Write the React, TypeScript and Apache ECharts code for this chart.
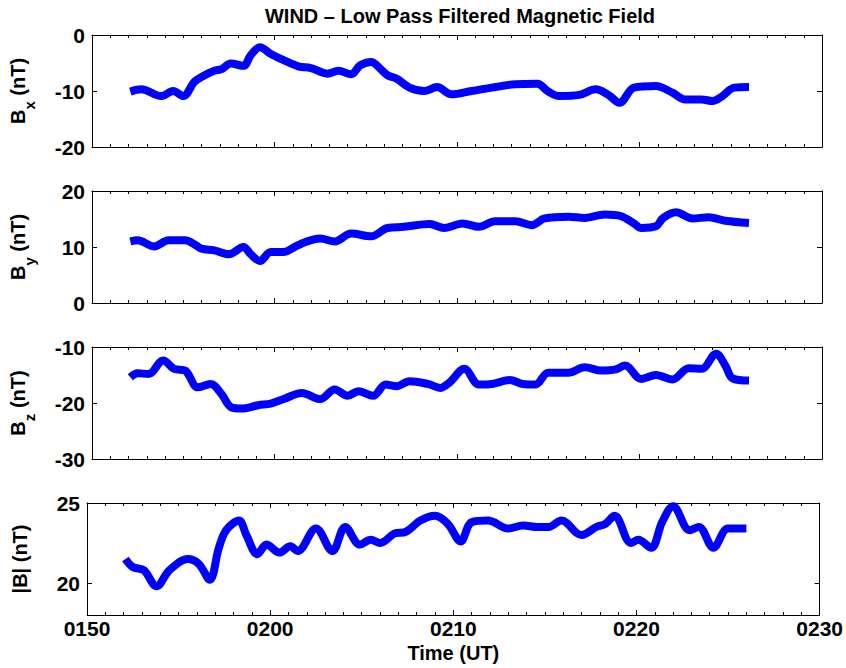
import React, { useEffect, useRef } from "react";
import * as echarts from "echarts";

// Time is in minutes after 01:50 UT
const xTickLabels = ["0150", "0200", "0210", "0220", "0230"];

const bxTime = [2.1, 2.7, 3.8, 4.45, 5.0, 5.6, 6.0, 6.7, 7.1, 7.6, 8.3, 8.7, 9.2, 9.8, 10.5, 11.3, 12.0, 12.9, 13.5, 14.2, 14.7, 15.3, 15.6, 16.2, 16.7, 17.4, 18.2, 18.9, 19.7, 20.8, 21.9, 23.2, 24.4, 25.0, 25.6, 26.7, 27.6, 28.3, 28.9, 29.7, 30.9, 31.8, 32.5, 33.4, 34.0, 34.5, 35.2, 36.0];
const bxValues = [-10.1, -9.7, -10.9, -10.0, -10.9, -8.4, -7.5, -6.4, -6.1, -5.1, -5.5, -3.6, -2.2, -3.4, -4.5, -5.6, -5.9, -6.9, -6.4, -7.0, -5.4, -4.8, -5.4, -7.2, -7.8, -9.4, -10.0, -9.3, -10.6, -10.0, -9.4, -8.8, -8.7, -10.1, -10.9, -10.7, -9.7, -10.7, -12.1, -9.4, -9.1, -10.3, -11.5, -11.5, -11.8, -11.0, -9.4, -9.3];

const byTime = [2.1, 2.5, 3.4, 4.2, 5.1, 5.7, 6.0, 6.7, 7.5, 8.3, 8.7, 9.2, 9.8, 10.5, 11.1, 11.7, 12.5, 13.3, 14.2, 15.3, 16.2, 17.1, 18.5, 19.3, 20.3, 21.2, 22.1, 23.2, 24.1, 24.8, 26.1, 27.0, 28.1, 29.0, 29.7, 30.1, 30.9, 31.3, 32.0, 32.9, 33.8, 34.7, 36.0];
const byValues = [11.0, 11.2, 10.1, 11.2, 11.2, 10.3, 9.7, 9.4, 8.7, 10.0, 8.7, 7.5, 9.1, 9.1, 10.0, 10.9, 11.5, 11.0, 12.4, 11.9, 13.4, 13.6, 14.1, 13.4, 14.2, 13.6, 14.6, 14.6, 13.9, 15.1, 15.4, 15.2, 15.8, 15.5, 14.2, 13.4, 13.7, 15.2, 16.2, 15.1, 15.3, 14.7, 14.3];

const bzTime = [2.1, 2.5, 3.1, 3.9, 4.5, 5.1, 5.8, 6.5, 7.1, 7.6, 8.2, 9.1, 9.8, 10.5, 11.5, 12.5, 13.3, 14.0, 14.6, 15.4, 16.1, 16.7, 17.4, 18.4, 19.1, 19.6, 20.4, 21.2, 21.9, 22.9, 23.6, 24.3, 25.0, 26.1, 27.0, 27.9, 28.7, 29.2, 30.1, 30.9, 31.8, 32.7, 33.4, 34.2, 34.7, 35.1, 36.0];
const bzValues = [-15.4, -14.7, -14.8, -12.4, -13.9, -14.2, -17.2, -16.6, -18.4, -20.7, -21.0, -20.4, -20.1, -19.3, -18.2, -19.3, -17.6, -18.7, -17.9, -18.7, -16.7, -17.0, -16.1, -16.6, -17.3, -16.3, -13.9, -16.7, -16.6, -15.9, -16.6, -16.7, -14.6, -14.6, -13.6, -14.2, -14.0, -13.3, -15.7, -15.0, -15.8, -13.8, -13.9, -11.2, -13.3, -15.6, -16.0];

const bmTime = [2.1, 2.5, 3.1, 3.8, 4.5, 5.5, 6.1, 6.7, 7.2, 7.6, 8.3, 8.7, 9.3, 9.8, 10.5, 11.1, 11.5, 12.5, 13.4, 14.1, 14.9, 15.5, 16.0, 16.8, 17.4, 18.2, 19.0, 19.7, 20.4, 21.0, 21.9, 23.0, 23.8, 24.6, 25.2, 25.9, 27.0, 27.8, 28.3, 28.8, 29.7, 30.1, 30.8, 31.4, 32.0, 32.9, 33.4, 34.2, 35.0, 36.0];
const bmValues = [21.5, 21.0, 20.8, 19.8, 20.8, 21.5, 21.2, 20.2, 22.2, 23.3, 23.9, 23.0, 21.8, 22.4, 21.9, 22.3, 22.0, 23.4, 22.0, 23.5, 22.4, 22.7, 22.5, 23.1, 23.2, 23.9, 24.2, 23.7, 22.6, 23.8, 23.9, 23.4, 23.6, 23.5, 23.5, 23.9, 23.0, 23.5, 23.7, 24.2, 22.5, 22.7, 22.2, 23.8, 24.8, 23.3, 23.5, 22.2, 23.4, 23.4];

const panelNames = ["{b|B}{s|x}{b| (nT)}", "{b|B}{s|y}{b| (nT)}", "{b|B}{s|z}{b| (nT)}", "{b||B| (nT)}"];
const panelMin = [-20, 0, -30, 18];
const panelMax = [0, 20, -10, 25];
const panelTicks = [[-20, -10, 0], [0, 10, 20], [-30, -20, -10], [20, 25]];

const FONT = "'Liberation Sans', Arial, Helvetica, sans-serif";
const GRID_TOPS = [35, 191, 347, 503];
const GRID_H = 112;

export default function App() {
  const ref = useRef<HTMLDivElement>(null);
  useEffect(() => {
    document.body.style.margin = "0";
    const chart = echarts.init(ref.current!, null, { renderer: "svg" });
    const times = [bxTime, byTime, bzTime, bmTime];
    const vals = [bxValues, byValues, bzValues, bmValues];

    const grids = GRID_TOPS.map((t) => ({ left: 87, width: 735, top: t, height: GRID_H }));
    const xAxes: any[] = [];
    const yAxes: any[] = [];
    const axisLine = { show: true, onZero: false, lineStyle: { color: "#000", width: 1 } };
    for (let i = 0; i < 4; i++) {
      for (const pos of ["bottom", "top"]) {
        const showLab = pos === "bottom" && i === 3;
        xAxes.push({
          gridIndex: i,
          type: "value",
          position: pos,
          min: 0,
          max: 40,
          interval: 10,
          axisLine,
          axisTick: { show: true, inside: true, length: 5, lineStyle: { color: "#000" } },
          minorTick: { show: true, splitNumber: 10, length: 3, lineStyle: { color: "#000" } },
          splitLine: { show: false },
          minorSplitLine: { show: false },
          axisLabel: {
            show: showLab,
            formatter: (v: number) => xTickLabels[Math.round(v / 10)] ?? "",
            color: "#000",
            fontFamily: FONT,
            fontWeight: "bold",
            fontSize: 21,
            margin: 3,
          },
          name: showLab ? "Time (UT)" : "",
          nameLocation: "middle",
          nameGap: 28,
          nameTextStyle: { color: "#000", fontFamily: FONT, fontWeight: "bold", fontSize: 20 },
        });
      }
      for (const pos of ["left", "right"]) {
        const isLeft = pos === "left";
        yAxes.push({
          gridIndex: i,
          type: "value",
          position: pos,
          min: panelMin[i],
          max: panelMax[i],
          axisLine,
          axisTick: { show: true, inside: true, length: 5, customValues: panelTicks[i], lineStyle: { color: "#000" } },
          axisLabel: {
            show: isLeft,
            customValues: panelTicks[i],
            color: "#000",
            fontFamily: FONT,
            fontWeight: "bold",
            fontSize: 21,
            margin: 7,
          },
          splitLine: { show: false },
          name: isLeft ? panelNames[i] : "",
          nameLocation: "middle",
          nameRotate: 90,
          nameGap: 55,
          nameTextStyle: {
            rich: {
              b: { fontFamily: FONT, fontWeight: "bold", fontSize: 20, color: "#000", lineHeight: 22, verticalAlign: "top" },
              s: { fontFamily: FONT, fontWeight: "bold", fontSize: 15, color: "#000", lineHeight: 29, verticalAlign: "bottom" },
            },
          },
        });
      }
    }

    const series = vals.map((v, i) => ({
      type: "line",
      xAxisIndex: i * 2,
      yAxisIndex: i * 2,
      data: v.map((y, k) => [times[i][k], y]),
      showSymbol: false,
      smooth: 0.35,
      lineStyle: { color: "#0000ff", width: 8, cap: "butt", join: "round" },
      clip: false,
    }));

    chart.setOption({
      animation: false,
      backgroundColor: "#fff",
      title: {
        text: "WIND \u2013 Low Pass Filtered Magnetic Field",
        left: 455,
        textAlign: "center",
        top: 1,
        textStyle: { fontFamily: FONT, fontWeight: "bold", fontSize: 20, color: "#000" },
      },
      grid: grids,
      xAxis: xAxes,
      yAxis: yAxes,
      series,
    });
    return () => chart.dispose();
  }, []);
  return <div ref={ref} style={{ width: 846, height: 668 }} />;
}
